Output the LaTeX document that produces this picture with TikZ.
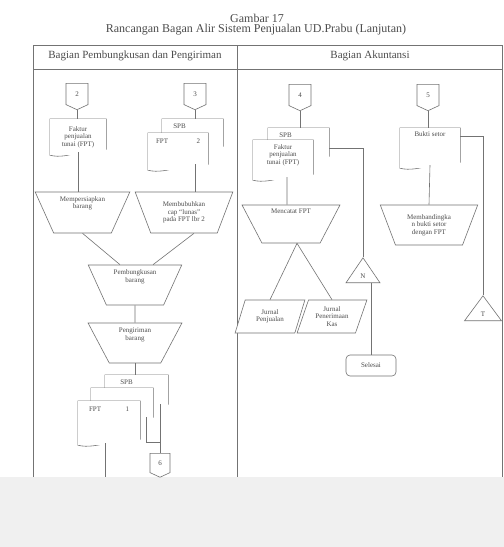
\documentclass[tikz,border=0pt]{standalone}
\usepackage{fontspec}
\setmainfont{Liberation Serif}
\usetikzlibrary{shapes.geometric,shapes.symbols}

\begin{document}
\begin{tikzpicture}[
            x=1pt, y=-1pt,
            line/.style={draw=black!55, line width=0.6pt},
            txt/.style={text=black!70, font=\fontsize{7}{7.5}\selectfont, align=center},
            offpage/.style={line, txt, fill=white, signal, signal to=south, signal pointer angle=130,
                minimum width=#1, minimum height=#1, inner sep=0pt},
            docu/.style 2 args={txt, fill=white, minimum width=#1, minimum height=#2, inner sep=1pt,
                append after command={\pgfextra{
                    \draw[line] (\tikzlastnode.south west) -- (\tikzlastnode.north west)
                        -- (\tikzlastnode.north east) -- ([yshift=6pt]\tikzlastnode.south east)
                        .. controls ([xshift=-20pt,yshift=10pt]\tikzlastnode.south east)
                        and ([xshift=20pt,yshift=-5pt]\tikzlastnode.south west) .. (\tikzlastnode.south west);}}},
            manop/.style 2 args={line, txt, fill=white, trapezium, trapezium stretches=true, shape border rotate=180,
                trapezium left angle=66, trapezium right angle=66, minimum width=#1, minimum height=#2, inner sep=1pt},
            journal/.style={line, txt, fill=white, trapezium, trapezium stretches=true,
                trapezium left angle=68, trapezium right angle=112, minimum width=70pt, minimum height=33pt, inner sep=0pt},
            filetri/.style={line, txt, fill=white, isosceles triangle, isosceles triangle stretches=true,
                shape border rotate=90, minimum width=#1, minimum height=25pt, inner sep=0pt},
            term/.style={line, txt, rounded corners=4pt, minimum width=50pt, minimum height=21pt, inner sep=1pt},
            head/.style={text=black!70, font=\fontsize{11}{13}\selectfont}
        ]
            \useasboundingbox (0,0) rectangle (504,547);
            \fill[white] (0,0) rectangle (504,547);
            \fill[black!6] (0,477) rectangle (504,547);

            % Title and lanes
            \node[head, font=\fontsize{12}{14}\selectfont] (title) at (257,18) {Gambar 17};
            \node[head, font=\fontsize{12}{14}\selectfont] (subtitle) at (256,30) {Rancangan Bagan Alir Sistem Penjualan UD.Prabu (Lanjutan)};
            \draw[line] (33,477) -- (33,45) -- (502,45) -- (502,477);
            \draw[line] (33,69) -- (502,69);
            \draw[line] (237,45) -- (237,477);
            \node[head] (laneL) at (135,56) {Bagian Pembungkusan dan Pengiriman};
            \node[head] (laneR) at (370,56) {Bagian Akuntansi};

            % Bagian Pembungkusan dan Pengiriman
            \node[offpage=22pt] (c2) at (77,94) {2};
            \node[offpage=22pt] (c3) at (195,94) {3};
            \node[docu={56pt}{36pt}] (fpt) at (78,137) {Faktur\\penjualan\\tunai (FPT)};
            \node[docu={61pt}{33pt}, label={[txt, anchor=north west, xshift=8pt, yshift=-2pt]north west:SPB}] (spbA) at (192.5,135.5) {};
            \node[docu={60pt}{37pt}, label={[txt, anchor=north, yshift=-3pt]north:\makebox[44pt]{FPT\hfill 2}}] (fptA) at (178,151.5) {};
            \node[manop={95pt}{41pt}] (siap) at (82.5,212.5) {Mempersiapkan\\barang\\[12pt]};
            \node[manop={98pt}{41pt}] (cap) at (184,212.5) {Membubuhkan\\cap ``lunas''\\pada FPT lbr 2};
            \node[manop={94pt}{40pt}] (bungkus) at (135,285) {Pembungkusan\\barang\\[10pt]};
            \node[manop={94pt}{40pt}] (kirim) at (135,343) {Pengiriman\\barang\\[10pt]};
            \node[docu={63pt}{35pt}, label={[txt, anchor=north west, xshift=12pt, yshift=-2pt]north west:SPB}] (spbB) at (136.5,392.5) {};
            \node[docu={62pt}{35pt}] (fptB) at (122,405.5) {};
            \node[docu={62pt}{44pt}, label={[txt, anchor=north, yshift=-3pt]north:\makebox[40pt]{FPT\hfill 1}}] (fptC) at (109,423) {};
            \node[offpage=20pt] (c6) at (160,463) {6};
            \coordinate (outB) at (105,477);
            \coordinate (joinB) at (146,442);

            \draw[line] (c2.south) -- (c2.south |- fpt.north);
            \draw[line] ([yshift=3pt]fpt.south) -- (fpt.south |- siap.north);
            \draw[line] (c3.south) -- (c3.south |- spbA.north);
            \draw[line] ([yshift=6pt]fptA.south -| c3.south) -- (cap.north -| c3.south);
            \draw[line] (siap.south) -- ([xshift=-15pt]bungkus.north);
            \draw[line] ([xshift=10pt]cap.south) -- ([xshift=18pt]bungkus.north);
            \draw[line] (bungkus.south) -- (kirim.north);
            \draw[line] (kirim.south) -- (kirim.south |- spbB.north);
            \draw[line] ([yshift=2pt]fptC.south -| outB) -- (outB);
            \draw[line] ([yshift=6pt]spbB.south -| c6.north) -- (c6.north);
            \draw[line] ([yshift=6pt]fptB.south -| joinB) -- (joinB) -- (joinB -| c6.north);

            % Bagian Akuntansi
            \node[offpage=22pt] (c4) at (300,95) {4};
            \node[offpage=22pt] (c5) at (428,95) {5};
            \node[docu={61pt}{34pt}, label={[txt, anchor=north west, xshift=8pt, yshift=-2pt]north west:SPB}] (spbR) at (298.5,145) {};
            \node[docu={60pt}{40pt}] (fptR) at (283,160) {Faktur\\penjualan\\tunai (FPT)\\[4pt]};
            \node[docu={60pt}{40pt}] (bukti) at (430,148) {Bukti setor\\[20pt]};
            \node[manop={98pt}{38pt}] (catat) at (291,224) {Mencatat FPT\\[18pt]};
            \node[manop={98pt}{40pt}] (banding) at (429,225) {Membandingka\\n bukti setor\\dengan FPT};
            \node[journal] (jpj) at (270,316.5) {Jurnal\\Penjualan};
            \node[journal] (jkas) at (332,316.5) {Jurnal\\Penerimaan\\Kas};
            \node[filetri=34pt, anchor=apex] (fileN) at (363,257) {\\[2pt]N};
            \node[filetri=37pt, anchor=apex] (fileT) at (483,295) {\\[2pt]T};
            \node[term] (selesai) at (371,365.5) {Selesai};

            \draw[line] (c4.south) -- (c4.south |- spbR.north);
            \draw[line] ([yshift=-3pt]spbR.east) -| (fileN.apex);
            \draw[line] ([xshift=4pt,yshift=3pt]fptR.south) -- ([xshift=-4pt]catat.north);
            \draw[line] ([xshift=6pt]catat.south) -- (jpj.north);
            \draw[line] ([xshift=6pt]catat.south) -- (jkas.north);
            \draw[line] (selesai.north) -- (selesai.north |- fileN.south);
            \draw[line] (c5.south) -- (c5.south |- bukti.north);
            \draw[line] ([yshift=3pt]bukti.south) -- (banding.north);
            \draw[line] ([yshift=12pt]bukti.east) -| (fileT.apex);
        \end{tikzpicture}
\end{document}
